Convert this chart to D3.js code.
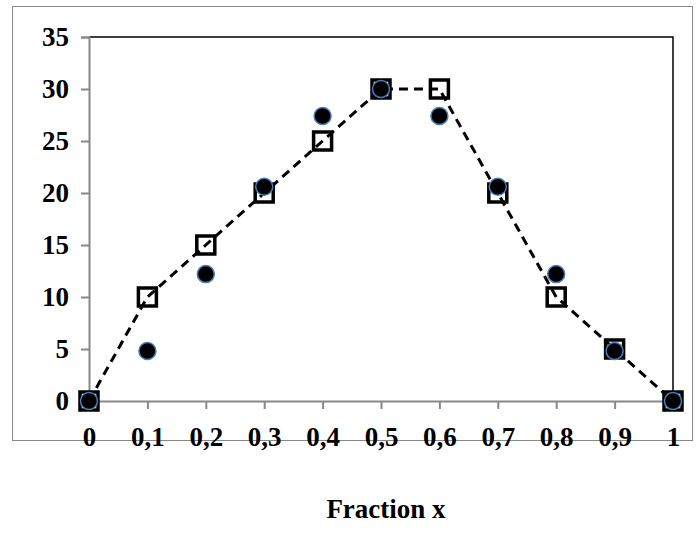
<!DOCTYPE html>
<html><head><meta charset="utf-8">
<script src="https://cdn.jsdelivr.net/npm/d3@7"></script>
<style>body{margin:0;background:#fff;} text{font-family:"Liberation Serif","Times New Roman",serif;font-weight:bold;}</style>
</head><body>
<script>
// Data
const xValues = [0, 0.1, 0.2, 0.3, 0.4, 0.5, 0.6, 0.7, 0.8, 0.9, 1];
const squareValues = [0, 10, 15, 20, 25, 30, 30, 20, 10, 5, 0];
const circleValues = [0, 4.8, 12.2, 20.6, 27.4, 30, 27.4, 20.6, 12.2, 4.8, 0];
const yTicks = [0, 5, 10, 15, 20, 25, 30, 35];

const svg = d3.select('body').append('svg').attr('width', 700).attr('height', 548);

// Outer frame
svg.append('rect').attr('x', 12.5).attr('y', 6.5).attr('width', 680).attr('height', 434)
  .attr('fill', 'none').attr('stroke', '#888').attr('stroke-width', 1);

const x = d3.scaleLinear().domain([0, 1]).range([89, 673]);
const y = d3.scaleLinear().domain([0, 35]).range([401, 37]);

// Top and right border of plot area
svg.append('path').attr('d', `M${x(0)},${y(35)}H${x(1)}V${y(0)}`)
  .attr('fill', 'none').attr('stroke', '#000').attr('stroke-width', 1.5);

const xAxis = svg.append('g').attr('transform', `translate(0,${y(0)})`)
  .call(d3.axisBottom(x).tickValues(xValues).tickSize(8).tickPadding(18)
    .tickFormat(d => d3.format('.1~f')(d).replace('.', ',')));
const yAxis = svg.append('g').attr('transform', `translate(${x(0)},0)`)
  .call(d3.axisLeft(y).tickValues(yTicks).tickSize(8).tickPadding(12));
[xAxis, yAxis].forEach(a => {
  a.attr('font-size', null).attr('font-family', null);
  a.selectAll('path,line').attr('stroke', '#888').attr('stroke-width', 2);
  a.selectAll('text').attr('fill', '#000').style('font-size', '27px');
});

// Dashed line
const pts = xValues.map((v, i) => [x(v), y(squareValues[i])]);
svg.append('path').attr('d', d3.line()(pts))
  .attr('fill', 'none').attr('stroke', '#000').attr('stroke-width', 3).attr('stroke-dasharray', '9,6');

// Squares
svg.append('g').selectAll('rect').data(pts).join('rect')
  .attr('x', d => d[0] - 9).attr('y', d => d[1] - 9).attr('width', 18).attr('height', 18)
  .attr('fill', 'none').attr('stroke', '#000').attr('stroke-width', 3.5);

// Circles
svg.append('g').selectAll('circle').data(xValues).join('circle')
  .attr('cx', d => x(d)).attr('cy', (d, i) => y(circleValues[i])).attr('r', 8.5)
  .attr('fill', '#000').attr('stroke', '#4a7ebb').attr('stroke-width', 1.5);

svg.append('text').attr('x', 386).attr('y', 518).attr('text-anchor', 'middle')
  .style('font-size', '27px').text('Fraction x');
</script>
</body></html>
